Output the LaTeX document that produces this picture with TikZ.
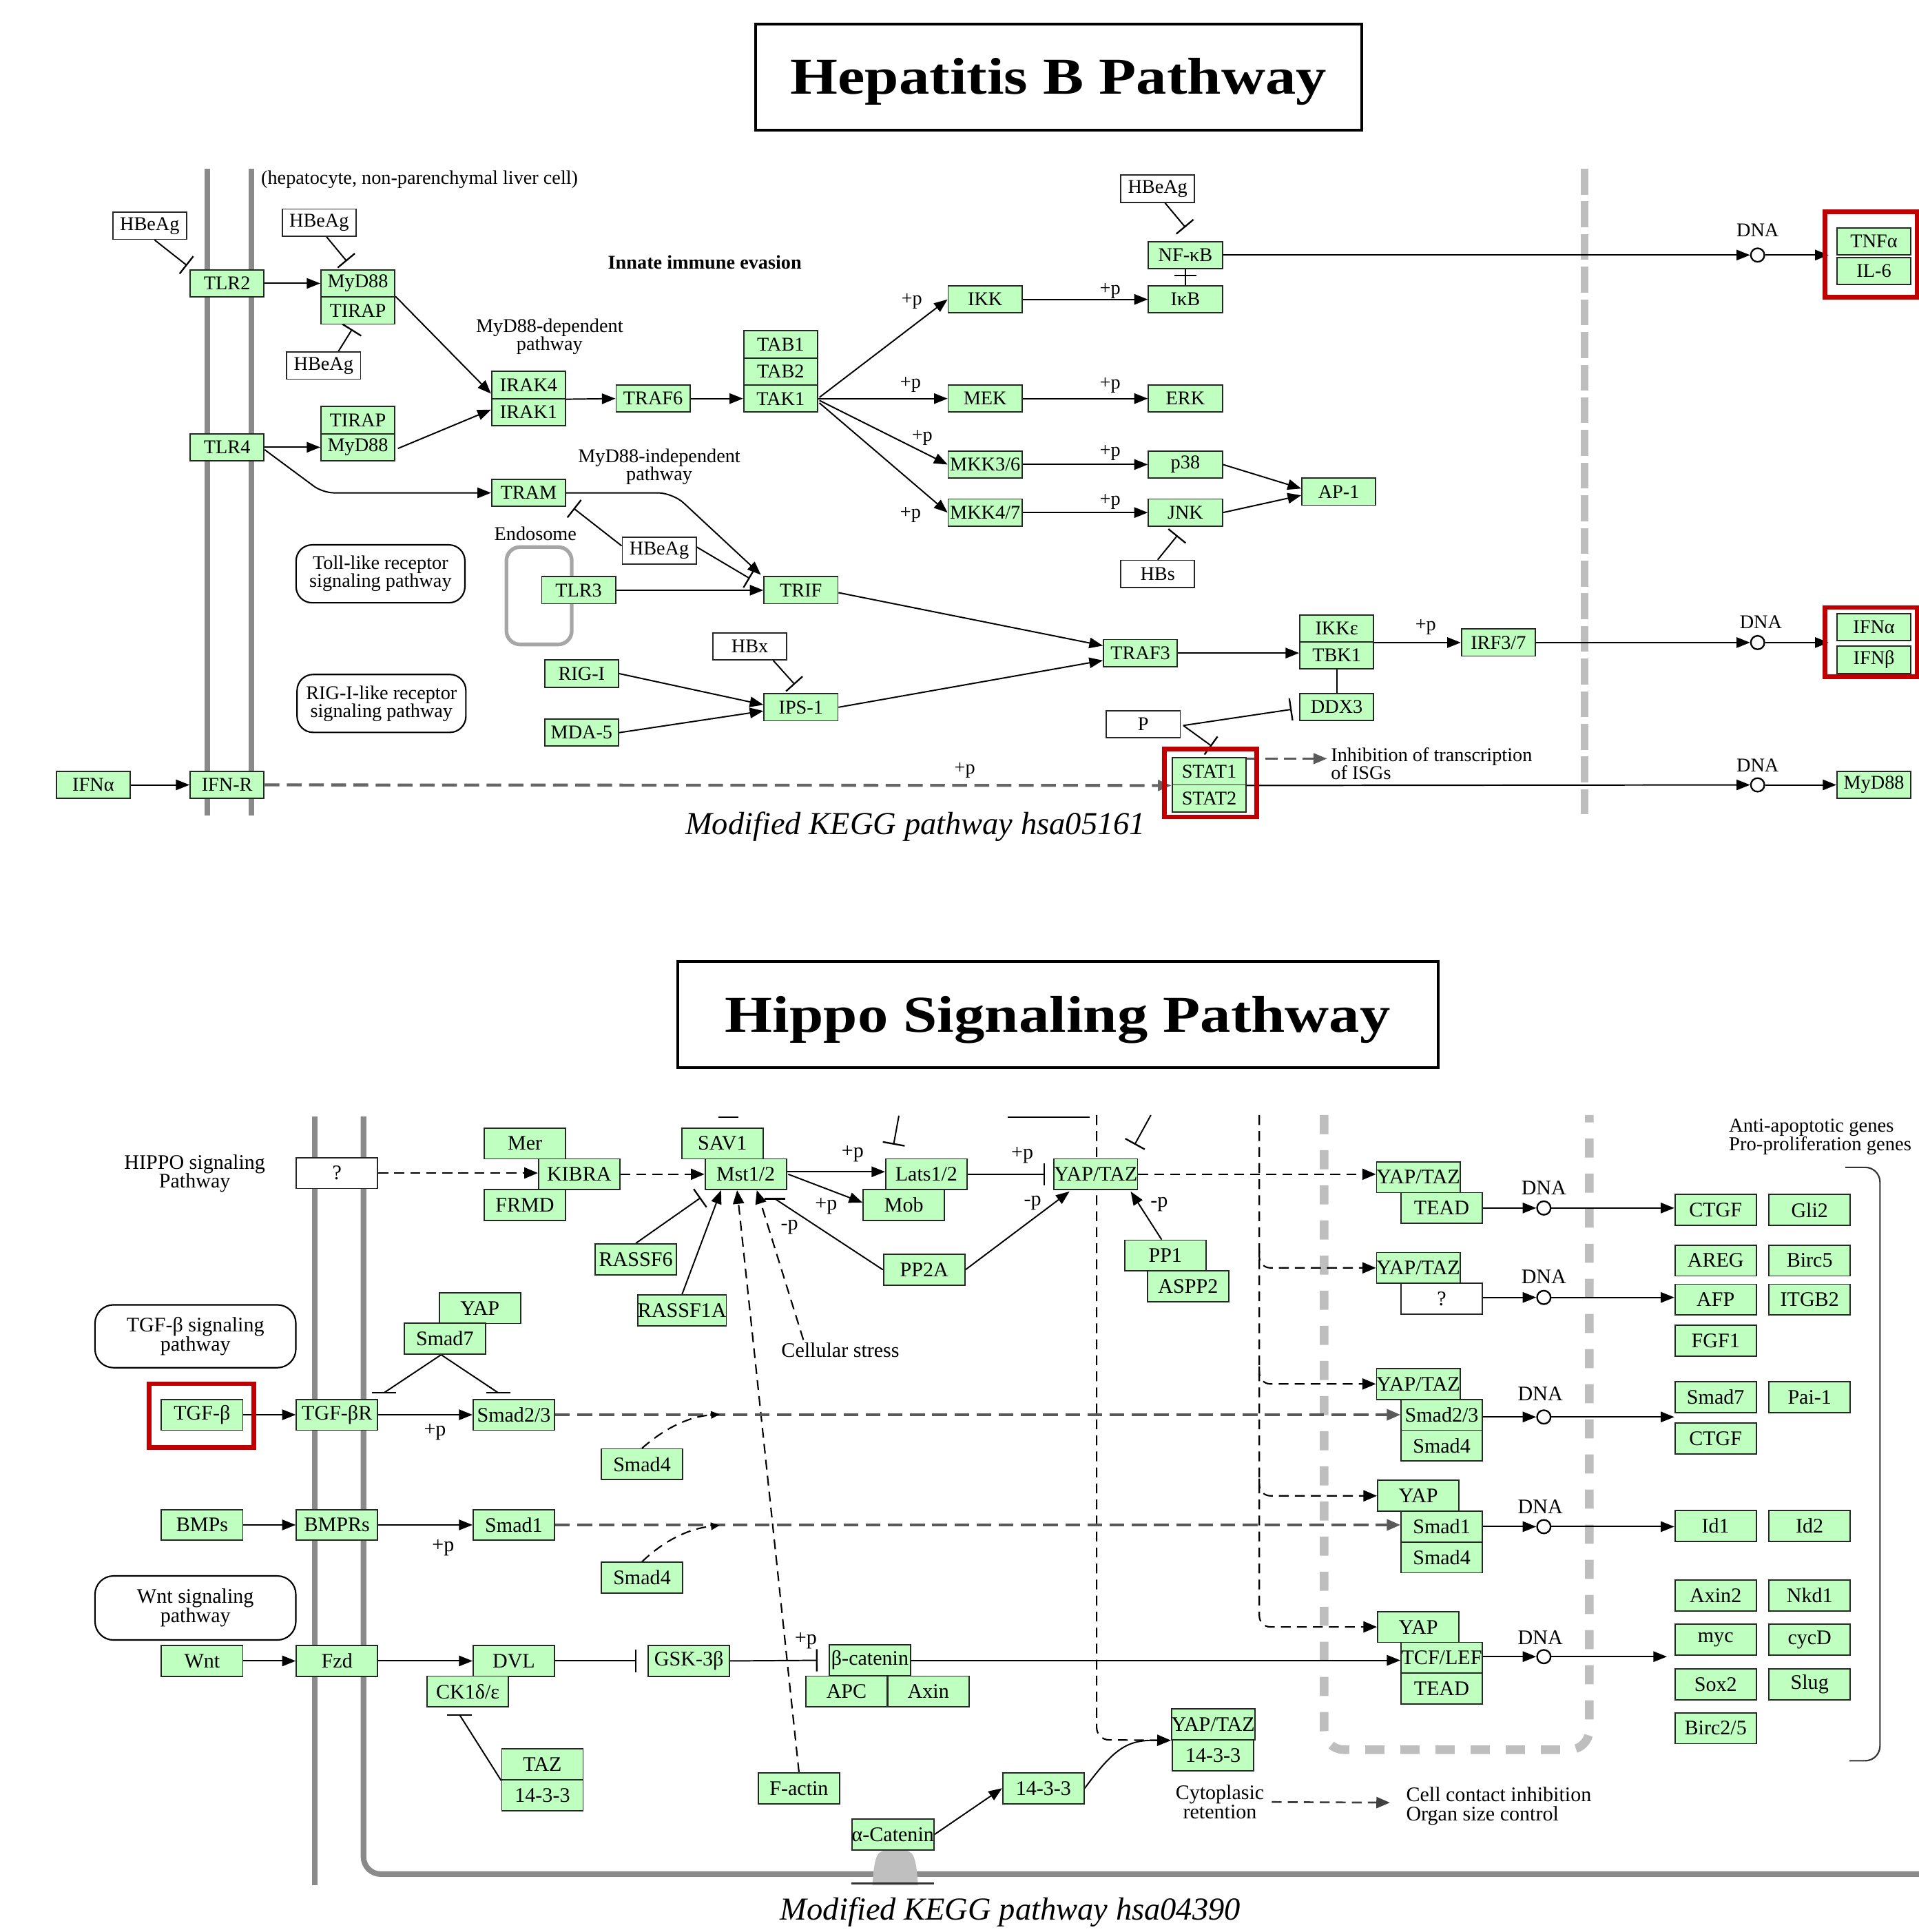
\documentclass[tikz,border=0pt]{standalone}
\usepackage{fontspec}
\setmainfont{Liberation Serif}
\usetikzlibrary{arrows.meta,calc}
\definecolor{kg}{HTML}{BFFFBF}
\definecolor{kred}{HTML}{C00000}
\definecolor{memg}{HTML}{8A8A8A}
\definecolor{nucg}{HTML}{BEBEBE}
\newcommand\ktop{\fontsize{15.8}{14.5}\selectfont}
\newcommand\kbot{\fontsize{16.8}{15.5}\selectfont}
\pgfdeclarelayer{bg}\pgfsetlayers{bg,main}
\begin{document}
\begin{tikzpicture}[x=1pt,y=-1pt,
  kb/.style={draw=black!85,line width=1pt,fill=kg,minimum width=60pt,minimum height=22pt,inner sep=0pt,font=\ktop},
  wb/.style={kb,fill=white},
  Kb/.style={kb,minimum width=66pt,minimum height=25pt,font=\kbot},
  Wb/.style={Kb,fill=white},
  lt/.style={font=\ktop,inner sep=0pt,align=center},
  lb/.style={font=\kbot,inner sep=0pt,align=center},
  act/.style={line width=1.1pt,-{Triangle[length=11pt,width=8.5pt]}},
  inh/.style={line width=1.1pt,-{Bar[width=18pt,line width=1.3pt]}},
  dsh/.style={line width=1.2pt,dash pattern=on 8pt off 5pt},
  dshg/.style={line width=2.4pt,draw=black!60,dash pattern=on 12pt off 6pt},
  dna/.style={circle,draw,line width=1.3pt,fill=white,minimum size=11pt,inner sep=0pt},
  redb/.style={draw=kred,line width=3.8pt},
  pw/.style={draw,rounded corners=13pt,line width=1.2pt,minimum width=137pt,minimum height=47pt,align=center,font=\ktop,inner sep=0pt},
  mem/.style={draw=memg,line width=4.5pt},
  ttl/.style={draw,line width=2.2pt,inner sep=0pt,text height=28pt,text depth=0pt,font=\fontsize{42}{46}\selectfont\bfseries},
  captxt/.style={inner sep=0pt,font=\fontsize{26}{28}\selectfont\itshape}]
\useasboundingbox (0,0) rectangle (1557,1568);

% ================= TOP: Hepatitis B =================
\node[ttl,minimum width=492pt,minimum height=86pt] (title1) at (859,62.5) {\scalebox{1.18}[1]{Hepatitis B Pathway}};
\node[lt] (hep) at (340.5,146) {(hepatocyte, non-parenchymal liver cell)};
\node[wb] (hbe1) at (121.5,183.3) {HBeAg};
\node[kb] (tlr2) at (184.3,230) {TLR2};
\node[wb] (hbe2) at (259,180.7) {HBeAg};
\node[kb] (myd1) at (290.4,230) {MyD88};
\node[kb] (tir1) at (290.4,252) {TIRAP};
\node[wb] (hbe3) at (262.6,296.7) {HBeAg};
\node[lt] (lmd) at (446,273) {MyD88-dependent\\pathway};
\node[inner sep=0pt,font=\ktop\bfseries] (lie) at (572,213) {Innate immune evasion};
\node[kb] (irak4) at (429,312.5) {IRAK4};
\node[kb] (irak1) at (429,334.5) {IRAK1};
\node[kb] (tlr4) at (184.3,363) {TLR4};
\node[kb] (tir2) at (290.4,341) {TIRAP};
\node[kb] (myd2) at (290.4,363) {MyD88};
\node[kb] (tram) at (429,400) {TRAM};
\node[kb] (traf6) at (530,323.5) {TRAF6};
\node[kb] (tab1) at (633.5,279.5) {TAB1};
\node[kb] (tab2) at (633.5,301.5) {TAB2};
\node[kb] (tak1) at (633.5,323.5) {TAK1};
\node[kb] (ikk) at (799.5,243) {IKK};
\node[kb] (ikb) at (962,243) {IκB};
\node[kb] (nfkb) at (962,207) {NF-κB};
\node[wb] (hbe4) at (939.5,153.2) {HBeAg};
\node[kb] (mek) at (799.5,323.5) {MEK};
\node[kb] (erk) at (962,323.5) {ERK};
\node[kb] (mkk36) at (799.5,377) {MKK3/6};
\node[kb] (p38) at (962,377) {p38};
\node[kb] (mkk47) at (799.5,416) {MKK4/7};
\node[kb] (jnk) at (962,416) {JNK};
\node[kb] (ap1) at (1086.5,399) {AP-1};
\node[wb] (hbs) at (939.5,465.8) {HBs};
\node[lt] (lmi) at (535,379) {MyD88-independent\\pathway};
\node[lt] (endo) at (434.5,433) {Endosome};
\node[wb] (hbe5) at (535,447) {HBeAg};
\node[kb] (tlr3) at (469.6,479) {TLR3};
\node[kb] (trif) at (650,479) {TRIF};
\node[pw] (toll) at (308.8,465.7) {Toll-like receptor\\signaling pathway};
\node[pw] (rigp) at (309.6,570.9) {RIG-I-like receptor\\signaling pathway};
\node[kb] (rigi) at (472,546.7) {RIG-I};
\node[kb] (mda5) at (472,594.6) {MDA-5};
\node[wb] (hbx) at (608.5,524.5) {HBx};
\node[kb] (ips1) at (650,574) {IPS-1};
\node[kb] (traf3) at (925.5,530) {TRAF3};
\node[kb] (ikke) at (1084.8,510) {IKKε};
\node[kb] (tbk1) at (1084.8,532) {TBK1};
\node[kb] (ddx3) at (1084.8,573.7) {DDX3};
\node[kb] (irf) at (1216,521.5) {IRF3/7};
\node[wb] (pbox) at (927.8,587.8) {P};
\node[kb] (stat1) at (981.3,626) {STAT1};
\node[kb] (stat2) at (981.3,648) {STAT2};
\node[kb] (ifna1) at (75.7,637) {IFNα};
\node[kb] (ifnr) at (184.3,637) {IFN-R};
\node[kb] (tnfa) at (1520.8,196) {TNFα};
\node[kb] (il6) at (1520.8,220) {IL-6};
\node[kb] (ifna2) at (1520.8,509) {IFNα};
\node[kb] (ifnb) at (1520.8,535.5) {IFNβ};
\node[kb] (myd3) at (1520.8,637) {MyD88};
\node[dna] (d1) at (1426.4,207) {};
\node[dna] (d2) at (1426.4,521.5) {};
\node[dna] (d3) at (1426.4,637) {};
\node[lt] (dl1) at (1426.4,187) {DNA};
\node[lt] (dl2) at (1429,505) {DNA};
\node[lt] (dl3) at (1426.4,621) {DNA};
\node[lt,align=left,anchor=west] (isg) at (1080,619.5) {Inhibition of transcription\\of ISGs};
\node[lt] (pp1t) at (740,244.5) {+p};
\node[lt] (pp2t) at (900.9,236) {+p};
\node[lt] (pp3t) at (739,312) {+p};
\node[lt] (pp4t) at (900.9,312.5) {+p};
\node[lt] (pp5t) at (748.4,355) {+p};
\node[lt] (pp6t) at (900.9,367.5) {+p};
\node[lt] (pp7t) at (739,418) {+p};
\node[lt] (pp8t) at (900.9,407) {+p};
\node[lt] (pp9t) at (1157,509) {+p};
\node[lt] (pp10t) at (783,625) {+p};
\node[captxt] (cap1) at (743,671) {Modified KEGG pathway hsa05161};
\coordinate (tnfin) at (1484,207);
\coordinate (ifnin) at (1484,521.5);
\coordinate (isgin) at (1077,615.7);

\begin{pgfonlayer}{bg}
\fill[white] (0,0) rectangle (1557,1568);
\draw[mem] (168,137) -- (168,662);
\draw[mem] (204,137) -- (204,662);
\draw[draw=nucg,line width=6.5pt,dash pattern=on 21pt off 5.5pt] (1286,137) -- (1286,661);
\draw[draw=black!35,line width=3pt,rounded corners=11pt] (411,444) rectangle (464,523);
\draw[inh] ($(hbe1.south)+(4,0)$) -- ($(tlr2.north west)+(-2,-3)$);
\draw[act] (tlr2.east) -- (myd1.west);
\draw[inh] ($(hbe2.south)+(6,0)$) -- ($(myd1.north)+(-9,-6.5)$);
\draw[inh] ($(hbe3.north)+(12,0)$) -- ($(tir1.south)+(-4.6,3.7)$);
\draw[act] (tir1.north east) -- ($(irak4.west)+(0,7)$);
\draw[act] (tlr4.east) -- (myd2.west);
\draw[act] ($(myd2.east)+(2,1)$) -- ($(irak1.west)+(0,-2)$);
\draw[act] (irak4.south east) -- (traf6.west);
\draw[act,rounded corners=9pt] ($(tlr4.east)+(0,2)$) -- (262,400) -- (tram.west);
\draw[act] (traf6.east) -- (tak1.west);
\draw[act] ($(tak1.east)+(1,-1)$) -- (ikk.west);
\draw[act] (tak1.east) -- (mek.west);
\draw[act] ($(tak1.east)+(1,1.5)$) -- (mkk36.west);
\draw[act] ($(tak1.east)+(1,3.5)$) -- (mkk47.west);
\draw[act] (ikk.east) -- (ikb.west);
\draw[act] (mek.east) -- (erk.west);
\draw[act] (mkk36.east) -- (p38.west);
\draw[act] (mkk47.east) -- (jnk.west);
\draw[inh] ($(hbe4.south)+(6,0)$) -- ($(nfkb.north)+(0,-11)$);
\draw[line width=1.1pt] (ikb.north) -- (nfkb.south);
\draw[inh] (ikb.north) -- ($(ikb.north)+(0,-8.5)$);
\draw[act] (nfkb.east) -- (d1.west);
\draw[act] (d1.east) -- (tnfin);
\draw[act] (p38.east) -- ($(ap1.west)+(0,-2.5)$);
\draw[act] (jnk.east) -- ($(ap1.west)+(0,3)$);
\draw[inh] (hbs.north) -- ($(jnk.south)+(-6.4,7)$);
\draw[act,rounded corners=12pt] (tram.east) -- (546,400) -- ($(trif.north west)+(-2,-1)$);
\draw[inh] ($(hbe5.west)+(0,-4)$) -- ($(tram.south east)+(6,1)$);
\draw[inh] ($(hbe5.east)+(0,-3)$) -- ($(trif.north west)+(-11,2)$);
\draw[act] (tlr3.east) -- (trif.west);
\draw[act] ($(trif.east)+(0,2)$) -- ($(traf3.west)+(0,-6)$);
\draw[act] (rigi.east) -- ($(ips1.west)+(0,-2)$);
\draw[act] (mda5.east) -- ($(ips1.west)+(0,3)$);
\draw[inh] ($(hbx.south)+(19,0)$) -- ($(ips1.north)+(-5,-7)$);
\draw[act] (ips1.east) -- ($(traf3.west)+(0,6)$);
\draw[act] (traf3.east) -- (traf3.east -| tbk1.west);
\draw[act] (ikke.south east) -- (ikke.south east -| irf.west);
\draw[act] (irf.east) -- (d2.west);
\draw[act] (d2.east) -- (ifnin);
\draw[line width=1.1pt] (tbk1.south) -- (ddx3.north);
\draw[inh] ($(pbox.east)+(2,1)$) -- ($(ddx3.west)+(-6,2)$);
\draw[inh] ($(pbox.east)+(2,1)$) -- ($(stat1.north)+(2,-9)$);
\draw[act] (ifna1.east) -- (ifnr.west);
\draw[dshg,-{Triangle[length=11pt,width=8.5pt]}] (ifnr.east) -- (stat1.south west);
\draw[line width=2pt,draw=black!65,dash pattern=on 10pt off 5pt,-{Triangle[length=11pt,width=8.5pt]}] (stat1.east |- isgin) -- (isgin);
\draw[act] (stat1.south east) -- (d3.west);
\draw[act] (d3.east) -- (myd3.west);
\end{pgfonlayer}
\draw[redb] (1481,172) rectangle (1556,241);
\draw[redb] (1481,493) rectangle (1556,549);
\draw[redb] (945,608) rectangle (1020,663);

% ================= BOTTOM: Hippo =================
\node[ttl,minimum width=617pt,minimum height=86pt] (title2) at (858.5,823.5) {\scalebox{1.18}[1]{Hippo Signaling Pathway}};
\node[lb] (hippo) at (158,952.5) {HIPPO signaling\\Pathway};
\node[Wb] (q1) at (273.5,952) {?};
\node[Kb] (mer) at (426,928) {Mer};
\node[Kb] (kibra) at (470,953) {KIBRA};
\node[Kb] (frmd) at (426,978) {FRMD};
\node[Kb] (sav1) at (586.3,928) {SAV1};
\node[Kb] (mst) at (605.2,953) {Mst1/2};
\node[Kb] (lats) at (751.8,953) {Lats1/2};
\node[Kb] (mob) at (733.5,978) {Mob};
\node[Kb] (yt1) at (889.3,953) {YAP/TAZ};
\node[Kb] (rassf6) at (516,1022) {RASSF6};
\node[Kb] (rassf1a) at (553.5,1063.5) {RASSF1A};
\node[Kb] (pp2a) at (750,1030.5) {PP2A};
\node[Kb] (pp1) at (945.7,1019) {PP1};
\node[Kb] (aspp2) at (964.2,1044) {ASPP2};
\node[lb] (cs) at (682,1095.5) {Cellular stress};
\node[pw,minimum width=163pt,minimum height=51pt,font=\kbot,rounded corners=15pt] (tgfp) at (158.6,1084.5) {TGF-β signaling\\pathway};
\node[Kb] (yap7) at (389.5,1061.6) {YAP};
\node[Kb] (smad7) at (361,1086.5) {Smad7};
\node[Kb] (tgfb) at (164,1148.2) {TGF-β};
\node[Kb] (tgfbr) at (273.5,1148.2) {TGF-βR};
\node[Kb] (smad23) at (417,1148.2) {Smad2/3};
\node[Kb] (smad4a) at (521,1188.4) {Smad4};
\node[Kb] (bmps) at (164,1237.6) {BMPs};
\node[Kb] (bmprs) at (273.5,1237.6) {BMPRs};
\node[Kb] (smad1) at (417,1237.6) {Smad1};
\node[Kb] (smad4b) at (521,1280.5) {Smad4};
\node[pw,minimum width=163pt,minimum height=52pt,font=\kbot,rounded corners=15pt] (wntp) at (158.6,1305) {Wnt signaling\\pathway};
\node[Kb] (wnt) at (164,1348) {Wnt};
\node[Kb] (fzd) at (273.5,1348) {Fzd};
\node[Kb] (dvl) at (417,1348) {DVL};
\node[Kb] (ck1) at (379.6,1372.8) {CK1δ/ε};
\node[Kb] (taz) at (440.2,1432) {TAZ};
\node[Kb] (t14a) at (440.2,1457) {14-3-3};
\node[Kb] (gsk) at (559.1,1348) {GSK-3β};
\node[Kb] (bcat) at (706,1347.5) {β-catenin};
\node[Kb] (apc) at (687,1372.8) {APC};
\node[Kb] (axin) at (753.4,1372.8) {Axin};
\node[Kb] (factin) at (648.4,1451.3) {F-actin};
\node[Kb] (t14b) at (846.8,1451.3) {14-3-3};
\node[Kb] (acat) at (724.6,1488.8) {α-Catenin};
\node[Kb] (yt6) at (984.5,1399.5) {YAP/TAZ};
\node[Kb] (t14c) at (984.5,1424.5) {14-3-3};
\node[lb] (cyto) at (990,1462.5) {Cytoplasic\\retention};
\node[lb,align=left,anchor=west] (cci) at (1141,1466) {Cell contact inhibition\\Organ size control};
% nucleus
\node[Kb] (ytn1) at (1151,955.4) {YAP/TAZ};
\node[Kb] (tead1) at (1170,980.4) {TEAD};
\node[Kb] (ytn2) at (1151,1029) {YAP/TAZ};
\node[Wb] (q2) at (1170,1054) {?};
\node[Kb] (ytn3) at (1151,1123.2) {YAP/TAZ};
\node[Kb] (smad23n) at (1170,1148.2) {Smad2/3};
\node[Kb] (smad4n) at (1170,1173.2) {Smad4};
\node[Kb] (yapn4) at (1151,1214) {YAP};
\node[Kb] (smad1n) at (1170,1239) {Smad1};
\node[Kb] (smad4n2) at (1170,1264) {Smad4};
\node[Kb] (yapn5) at (1151,1320.4) {YAP};
\node[Kb] (tcf) at (1170,1345.4) {TCF/LEF};
\node[Kb] (teadn) at (1170,1370.4) {TEAD};
\node[dna] (e1) at (1252.9,980.4) {};
\node[dna] (e2) at (1252.9,1053) {};
\node[dna] (e3) at (1252.9,1150) {};
\node[dna] (e4) at (1252.9,1239) {};
\node[dna] (e5) at (1252.9,1344.5) {};
\node[lb] (el1) at (1252.9,964) {DNA};
\node[lb] (el2) at (1252.9,1036) {DNA};
\node[lb] (el3) at (1250,1131) {DNA};
\node[lb] (el4) at (1250,1223) {DNA};
\node[lb] (el5) at (1250,1329) {DNA};
% targets
\node[Kb] (ctgf1) at (1392.3,982) {CTGF};
\node[Kb] (gli2) at (1468.6,982) {Gli2};
\node[Kb] (areg) at (1392.3,1023) {AREG};
\node[Kb] (birc5) at (1468.6,1023) {Birc5};
\node[Kb] (afp) at (1392.3,1054.7) {AFP};
\node[Kb] (itgb2) at (1468.6,1054.7) {ITGB2};
\node[Kb] (fgf1) at (1392.3,1088) {FGF1};
\node[Kb] (smad7n) at (1392.3,1134) {Smad7};
\node[Kb] (pai1) at (1468.6,1134) {Pai-1};
\node[Kb] (ctgf2) at (1392.3,1167.4) {CTGF};
\node[Kb] (id1) at (1392.3,1238.5) {Id1};
\node[Kb] (id2) at (1468.6,1238.5) {Id2};
\node[Kb] (axin2) at (1392.3,1294.8) {Axin2};
\node[Kb] (nkd1) at (1468.6,1294.8) {Nkd1};
\node[Kb] (myc) at (1392.3,1330.8) {myc};
\node[Kb] (cycd) at (1468.6,1330.8) {cycD};
\node[Kb] (sox2) at (1392.3,1367) {Sox2};
\node[Kb] (slug) at (1468.6,1367) {Slug};
\node[Kb] (birc25) at (1392.3,1402.6) {Birc2/5};
\node[font=\fontsize{16}{15}\selectfont,inner sep=0pt,align=left,anchor=west] (anti) at (1403,922.6) {Anti-apoptotic genes\\Pro-proliferation genes};
% labels
\node[lb] (bp1) at (692,936.4) {+p};
\node[lb] (bp2) at (670.5,979) {+p};
\node[lb] (bp3) at (829.6,937.5) {+p};
\node[lb] (bp4) at (353,1162) {+p};
\node[lb] (bp5) at (359.7,1256) {+p};
\node[lb] (bp6) at (654,1331.5) {+p};
\node[lb] (bm1) at (640.7,996) {-p};
\node[lb] (bm2) at (838,976.2) {-p};
\node[lb] (bm3) at (940.7,977.3) {-p};
\node[captxt] (cap2) at (820,1552) {Modified KEGG pathway hsa04390};
% free ends
\coordinate (u1) at (583,906.6); \coordinate (u2) at (599,906.6);
\coordinate (u3) at (729.5,905.4);
\coordinate (u4) at (818,906.6); \coordinate (u5) at (884.3,906.6);
\coordinate (u6) at (934,905);
\coordinate (v0) at (890,905);
\coordinate (w0) at (1022,905);
\coordinate (b1) at (311.6,1130.4);
\coordinate (b2) at (404.4,1130.4);
\coordinate (b3) at (629,973);
\coordinate (b4) at (373,1391.8);
\coordinate (s4a) at (584,1147.8);
\coordinate (s4b) at (584,1238);

\begin{pgfonlayer}{bg}
\draw[mem] (255.3,906) -- (255.3,1530);
\draw[mem,rounded corners=14pt] (295,906) -- (295,1521) -- (1562,1521);
\fill[black!25] (708,1530) .. controls (710,1498) and (714,1502) .. (726.5,1502) .. controls (739,1502) and (743,1498) .. (745,1530) -- cycle;
\draw[line width=1.5pt,draw=black!80] (691,1528.5) -- (758,1528.5);
\draw[draw=nucg,line width=7pt,dash pattern=on 15.5pt off 13pt,rounded corners=16pt] (1074.6,905) -- (1074.6,1420) -- (1289.8,1420) -- (1289.8,905);
\draw[line width=1.2pt,draw=black!80,rounded corners=12pt] (1497.6,947.4) -- (1525.7,947.4) -- (1525.7,1429) -- (1501,1429);
% top stubs
\draw[line width=1.3pt] (u1) -- (u2);
\draw[inh] (u3) -- ($(lats.north)+(-26.6,-11)$);
\draw[line width=1.1pt] (u4) -- (u5);
\draw[inh] (u6) -- ($(yt1.north)+(31.5,-11)$);
% hippo core
\draw[dsh,-{Triangle[length=11pt,width=9pt]}] (q1.east) -- (q1.east -| kibra.west);
\draw[dsh,-{Triangle[length=11pt,width=9pt]}] (kibra.east) -- (mst.west);
\draw[act] ($(mst.east)+(0,-2)$) -- ($(lats.west)+(0,-2)$);
\draw[act] ($(mst.east)+(1,0)$) -- ($(mob.west)+(0,-2)$);
\draw[inh] (lats.east) -- ($(yt1.west)+(-7,0)$);
\draw[line width=1.1pt] (pp2a.west) -- (b3);
\draw[line width=1.3pt] ($(b3)+(-8.5,0)$) -- ($(b3)+(8.5,0)$);
\draw[dsh,-{Triangle[length=11pt,width=9pt]}] ($(cs.north west)+(18,-2)$) -- ($(mst.south)+(9,0)$);
\draw[dsh,-{Triangle[length=11pt,width=9pt]}] (factin.north) -- ($(mst.south)+(-7,0)$);
\draw[act] (rassf1a.north) -- ($(mst.south)+(-20,0)$);
\draw[inh] (rassf6.north) -- ($(mst.south west)+(-3,6)$);
\draw[act] (pp2a.east) -- ($(yt1.south west)+(13,1)$);
\draw[act] ($(pp1.north)+(-3,0)$) -- ($(yt1.south east)+(-6,1)$);
\draw[dsh,rounded corners=10pt,-{Triangle[length=11pt,width=9pt]}] (v0) -- (890,1412) -- (yt6.south west);
\draw[act] (t14b.east) .. controls (905,1418) and (915,1412) .. (yt6.south west);
\draw[act] (acat.east) -- (t14b.west);
\draw[dsh,line width=1.5pt,draw=black!75,-{Triangle[length=11pt,width=9pt]}] ($(cyto.east)+(6,0)$) -- ($(cci.west)+(-13,-3)$);
% receptors
\draw[act] (tgfb.east) -- (tgfbr.west);
\draw[act] (tgfbr.east) -- (smad23.west);
\draw[act] (bmps.east) -- (bmprs.west);
\draw[act] (bmprs.east) -- (smad1.west);
\draw[act] (wnt.east) -- (fzd.west);
\draw[act] (fzd.east) -- (dvl.west);
\draw[line width=1.1pt] ($(smad7.south)+(-3,0)$) -- (b1);
\draw[line width=1.3pt] ($(b1)+(-10,0)$) -- ($(b1)+(10,0)$);
\draw[line width=1.1pt] ($(smad7.south)+(-3,0)$) -- (b2);
\draw[line width=1.3pt] ($(b2)+(-10,0)$) -- ($(b2)+(10,0)$);
\draw[line width=1.1pt] (taz.south west) -- (b4);
\draw[line width=1.3pt] ($(b4)+(-10,0)$) -- ($(b4)+(10,0)$);
\draw[inh] (dvl.east) -- ($(gsk.west)+(-9,0)$);
\draw[inh] (gsk.east) -- ($(bcat.west)+(-9,0)$);
\draw[act] (bcat.east) -- (bcat.east -| tcf.west);
\draw[dshg,draw=black!65,line width=2pt,-{Triangle[length=11pt,width=9pt]}] (smad23.east) -- (smad23n.west);
\draw[dshg,draw=black!65,line width=2pt,-{Triangle[length=11pt,width=9pt]}] (smad1.east) -- (smad1.east -| smad1n.west);
\draw[dsh,-{Triangle[length=7pt,width=6pt]}] (smad4a.north) .. controls (535,1163) and (555,1150) .. (s4a);
\draw[dsh,-{Triangle[length=7pt,width=6pt]}] (smad4b.north) .. controls (535,1254) and (555,1241) .. (s4b);
% to nucleus
\draw[dsh,-{Triangle[length=11pt,width=9pt]}] (yt1.east) -- (yt1.east -| ytn1.west);
\draw[dsh,rounded corners=9pt,-{Triangle[length=11pt,width=9pt]}] (w0) -- (1022,1320.4) -- (yapn5.west);
\draw[dsh,rounded corners=9pt,-{Triangle[length=11pt,width=9pt]}] (1022,1015) -- (1022,1029) -- (ytn2.west);
\draw[dsh,rounded corners=9pt,-{Triangle[length=11pt,width=9pt]}] (1022,1109) -- (1022,1123.2) -- (ytn3.west);
\draw[dsh,rounded corners=9pt,-{Triangle[length=11pt,width=9pt]}] (1022,1200) -- (1022,1214) -- (yapn4.west);
% DNA rows
\draw[act] (tead1.east) -- (e1.west);
\draw[act] (e1.east) -- (e1.east -| ctgf1.west);
\draw[act] (q2.east |- e2) -- (e2.west);
\draw[act] (e2.east) -- (e2.east -| afp.west);
\draw[act] (smad23n.east |- e3) -- (e3.west);
\draw[act] (e3.east) -- (e3.east -| smad7n.west);
\draw[act] (smad1n.east |- e4) -- (e4.west);
\draw[act] (e4.east) -- (e4.east -| id1.west);
\draw[act] (tcf.east |- e5) -- (e5.west);
\draw[act] (e5.east) -- ($(e5.east -| myc.west)+(-6,0)$);
\end{pgfonlayer}
\draw[redb] (121,1123) rectangle (206,1174.6);
\end{tikzpicture}
\end{document}
